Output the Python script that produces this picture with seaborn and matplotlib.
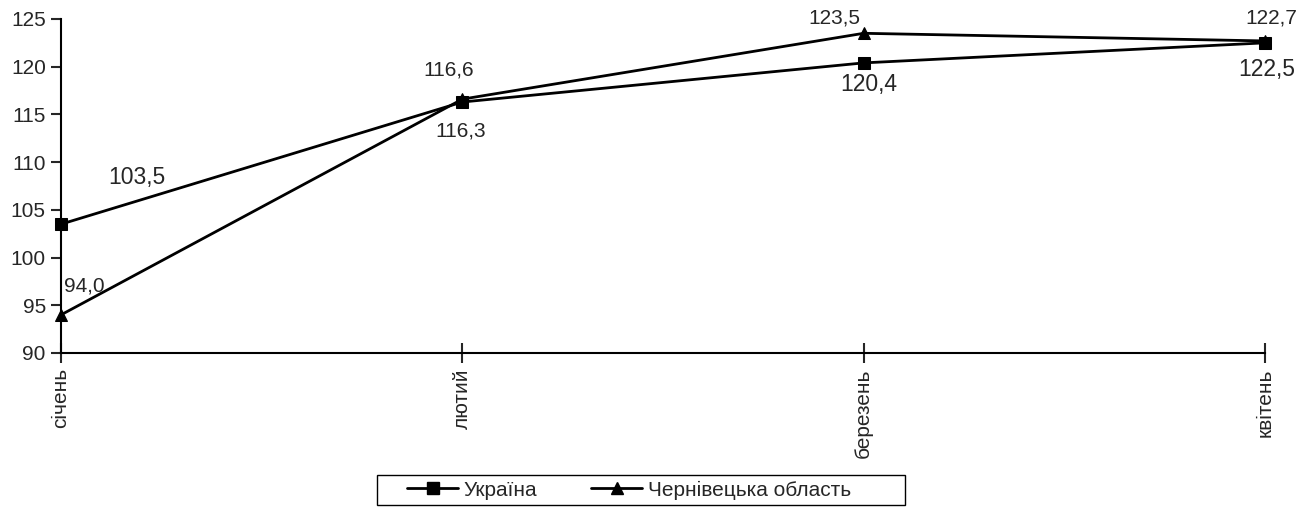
import pandas as pd
import seaborn as sns
from matplotlib import pyplot as plt
from matplotlib.patches import Rectangle

months = ['січень', 'лютий', 'березень', 'квітень']
ukraine = [103.5, 116.3, 120.4, 122.5]
chernivtsi = [94.0, 116.6, 123.5, 122.7]
series_names = ['Україна', 'Чернівецька область']

sns.set_style('ticks')
plt.rcParams['font.family'] = ['Liberation Sans', 'DejaVu Sans']

df = pd.DataFrame({
    'x': list(range(len(months))) * 2,
    'value': ukraine + chernivtsi,
    'series': [series_names[0]] * len(months) + [series_names[1]] * len(months),
})

fig = plt.figure(figsize=(13.16, 5.09), dpi=100)
ax = fig.add_axes([0.0464, 0.3065, 0.9148, 0.6562])
sns.lineplot(data=df, x='x', y='value', hue='series', style='series',
             markers={'Україна': 's', 'Чернівецька область': '^'},
             dashes=False, palette=['black', 'black'], linewidth=2,
             markersize=9, markeredgecolor='black', ax=ax, legend=False)
for ln in ax.lines:
    ln.set_clip_on(False)

ax.set_xlim(0, 3)
ax.set_ylim(90, 125)
ax.set_yticks(range(90, 126, 5))
ax.set_xticks(range(len(months)))
ax.set_xticklabels(months, rotation=90, fontsize=15)
ax.tick_params(axis='y', labelsize=15, length=7, width=1.5, pad=4)
ax.tick_params(axis='x', direction='inout', length=14, width=1.5, pad=4)
ax.set_xlabel('')
ax.set_ylabel('')
for s in ['top', 'right']:
    ax.spines[s].set_visible(False)
for s in ['left', 'bottom']:
    ax.spines[s].set_linewidth(1.5)
    ax.spines[s].set_color('black')

def fmt(v):
    return f'{v:.1f}'.replace('.', ',')

# Україна labels
ua_off = [(76, 47, 16.5), (-2, -29, 15), (5, -22, 16.5), (2, -27, 16.5)]
for i, v in enumerate(ukraine):
    dx, dy, fs = ua_off[i]
    ax.annotate(fmt(v), (i, v), xytext=(dx, dy), textcoords='offset pixels',
                ha='center', va='center', fontsize=fs, annotation_clip=False)
# Чернівецька область labels
ch_off = [(23, 29, 15), (-14, 29, 15), (-29, 15, 15), (6, 23, 15)]
for i, v in enumerate(chernivtsi):
    dx, dy, fs = ch_off[i]
    ax.annotate(fmt(v), (i, v), xytext=(dx, dy), textcoords='offset pixels',
                ha='center', va='center', fontsize=fs, annotation_clip=False)

handles = [
    plt.Line2D([], [], color='black', lw=2, marker='s', markersize=9),
    plt.Line2D([], [], color='black', lw=2, marker='^', markersize=9),
]
leg = fig.legend(handles, series_names, loc='center', bbox_to_anchor=(629 / 1316, 1 - 490 / 509),
                 ncol=2, fontsize=15, frameon=False,
                 handlelength=2.45, columnspacing=2.6, borderpad=0.2, handletextpad=0.25)
fig.patches.append(Rectangle((377 / 1316, 1 - 505 / 509), 528 / 1316, 30 / 509,
                             transform=fig.transFigure, fill=False, edgecolor='black', lw=1))

fig.savefig('out.png', dpi=100)
